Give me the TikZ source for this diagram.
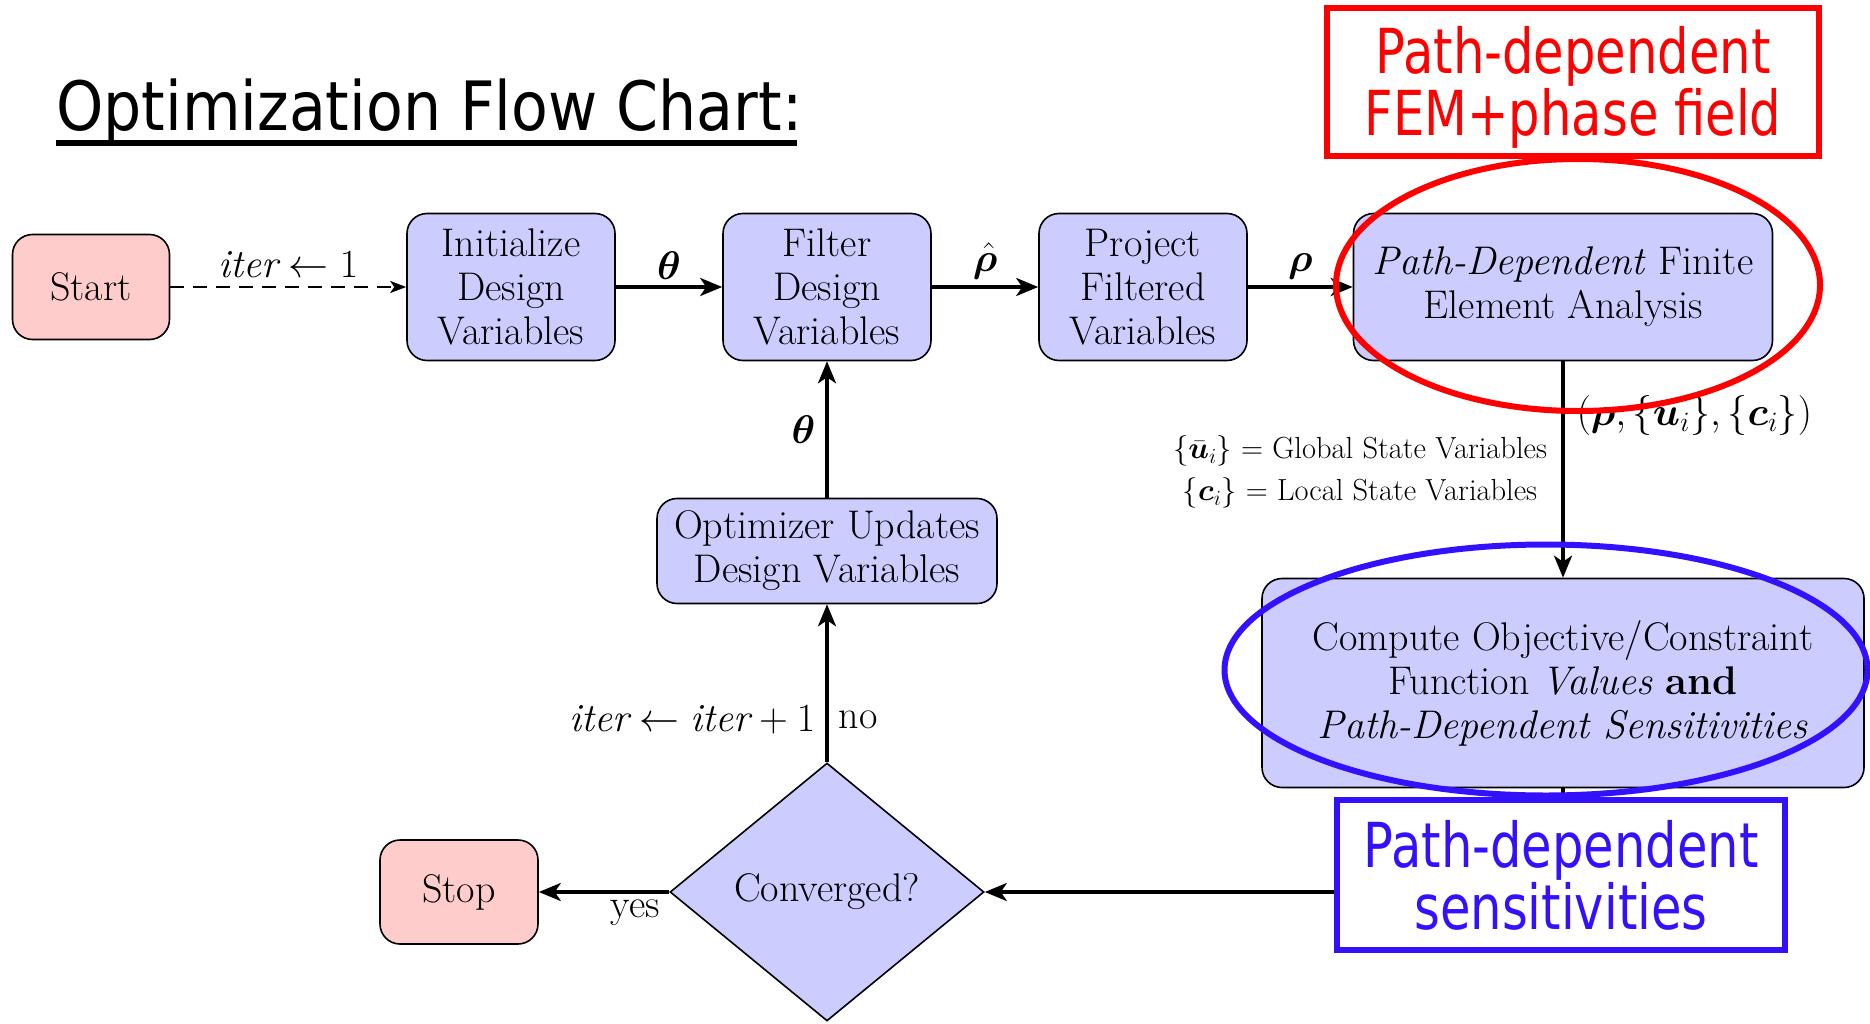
\RequirePackage{fix-cm}
\documentclass[tikz,border=0pt]{standalone}
\usepackage{fontspec}
\usepackage{amsmath,bm}
\usetikzlibrary{shapes.geometric,arrows.meta}
\newfontfamily\notefont{DejaVu Sans}
\definecolor{boxblue}{RGB}{204,204,255}
\definecolor{termpink}{RGB}{255,204,204}
\definecolor{noteblue}{RGB}{51,17,255}
\definecolor{notered}{RGB}{255,0,0}
\begin{document}
\begin{tikzpicture}[x=1pt,y=-1pt,
  stagebox/.style={draw, line width=1.6pt, rounded corners=20pt, fill=boxblue,
    align=center, inner sep=0pt, font=\fontsize{40}{44}\selectfont},
  termbox/.style={stagebox, fill=termpink},
  flow/.style={line width=3.5pt, -{Stealth[length=22pt,width=18pt,inset=6pt]}},
  initflow/.style={line width=1.8pt, dash pattern=on 14pt off 9pt,
    -{Stealth[length=16pt,width=12pt,inset=4pt]}},
  lbl/.style={font=\fontsize{40}{44}\selectfont, inner sep=6pt},
  noteframe/.style={draw, line width=6pt, fill=white, inner sep=0pt},
  notetext/.style={align=center, inner sep=0pt, font=\notefont\fontsize{62}{62}\selectfont},
  ring/.style={ellipse, draw, line width=6pt, inner sep=0pt}]
\useasboundingbox (0,0) rectangle (1870,1024);

% title
\node[anchor=base west, inner sep=0pt] (title) at (56,131)
  {\notefont\fontsize{68}{68}\selectfont\scalebox{0.885}[1]{Optimization Flow Chart:}};
\draw[line width=5.5pt] (title.base west |- 0,143) -- (797,143);

% stages
\node[termbox, minimum width=157pt, minimum height=105pt] (start) at (91,287) {Start};
\node[stagebox, minimum width=208pt, minimum height=147pt] (init) at (511,287) {Initialize\\Design\\Variables};
\node[stagebox, minimum width=208pt, minimum height=147pt] (filter) at (827,287) {Filter\\Design\\Variables};
\node[stagebox, minimum width=208pt, minimum height=147pt] (proj) at (1143,287) {Project\\Filtered\\Variables};
\node[stagebox, minimum width=419pt, minimum height=147pt] (fea) at (1563,287) {\textit{Path-Dependent} Finite\\Element Analysis};
\node[stagebox, minimum width=602pt, minimum height=209pt] (comp) at (1563,683) {Compute Objective/Constraint\\Function \textit{Values} \textbf{and}\\\textit{Path-Dependent Sensitivities}};
\node[stagebox, minimum width=340pt, minimum height=105pt] (opt) at (827,551) {Optimizer Updates\\Design Variables};
\node[diamond, draw, line width=1.6pt, fill=boxblue, inner sep=0pt, minimum width=314pt,
  minimum height=258pt, font=\fontsize{40}{44}\selectfont] (conv) at (827,892) {Converged?};
\node[termbox, minimum width=158pt, minimum height=104pt] (stop) at (459,892) {Stop};

% connectors
\draw[initflow] (start) -- node[lbl, above, yshift=2pt] {$\mathit{iter} \leftarrow 1$} (init);
\draw[flow] (init) -- node[lbl, above] {$\bm{\theta}$} (filter);
\draw[flow] (filter) -- node[lbl, above] {$\hat{\bm{\rho}}$} (proj);
\draw[flow] (proj) -- node[lbl, above] {$\bm{\rho}$} (fea);
\draw[flow] (fea) -- node[lbl, pos=0.25, anchor=west, inner sep=12pt]
  {$(\bm{\rho}, \{\bm{u}_i\}, \{\bm{c}_i\})$} (comp);
\draw[flow] (comp) |- (conv);
\draw[flow] (conv) -- node[lbl, pos=0.27, left, xshift=-4pt] {$\mathit{iter} \leftarrow \mathit{iter}+1$}
  node[lbl, pos=0.27, right, xshift=4pt] {no} (opt);
\draw[flow] (opt) -- node[lbl, left, xshift=-4pt] {$\bm{\theta}$} (filter);
\draw[flow] (conv) -- node[lbl, pos=0.26, below] {yes} (stop);

% state variable legend
\node[align=center, font=\fontsize{30.5}{42}\selectfont] (legend) at (1360,472)
  {$\{\bar{\bm{u}}_i\}$ = Global State Variables\\$\{\bm{c}_i\}$ = Local State Variables};

% highlights
\node[ring, draw=notered, minimum width=484pt, minimum height=252pt] (fearing) at (1578,285) {};
\node[ring, draw=noteblue, minimum width=643pt, minimum height=251pt] (compring) at (1546,670) {};
\node[noteframe, draw=notered, minimum width=492pt, minimum height=148pt] (femframe) at (1573,82) {};
\node[notetext, text=notered] (femnote) at (1573,87)
  {\scalebox{0.8}[1]{Path-dependent}\\\scalebox{0.8}[1]{FEM+phase field}};
\node[noteframe, draw=noteblue, minimum width=448pt, minimum height=150pt] (sensframe) at (1561,875) {};
\node[notetext, text=noteblue] (sensnote) at (1561,875)
  {\scalebox{0.8}[1]{Path-dependent}\\\scalebox{0.8}[1]{sensitivities}};
\end{tikzpicture}
\end{document}
